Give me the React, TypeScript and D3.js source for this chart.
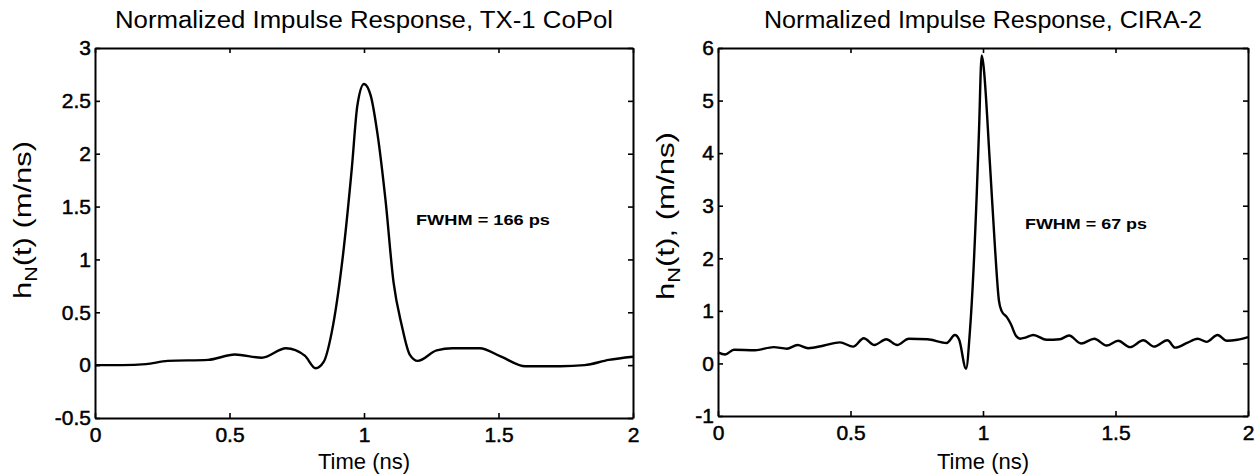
import React, { useEffect, useRef } from 'react';
import * as d3 from 'd3';

// TX-1 CoPol impulse response (ns, m/ns)
const leftTime = [0, 0.1, 0.19, 0.27, 0.42, 0.52, 0.62, 0.71, 0.78, 0.82, 0.85, 0.88, 0.92, 0.955, 0.975, 1.0, 1.025, 1.05, 1.08, 1.11, 1.14, 1.17, 1.2, 1.27, 1.33, 1.43, 1.51, 1.6, 1.73, 1.82, 1.91, 2.0];
const leftValue = [0, 0, 0.01, 0.04, 0.05, 0.1, 0.07, 0.16, 0.09, -0.03, 0.03, 0.31, 1.0, 1.87, 2.45, 2.66, 2.55, 2.19, 1.56, 0.78, 0.38, 0.1, 0.04, 0.14, 0.16, 0.16, 0.08, -0.01, -0.01, 0, 0.05, 0.08];

// CIRA-2 impulse response
const rightTime = [0, 0.027, 0.06, 0.14, 0.21, 0.26, 0.3, 0.34, 0.4, 0.46, 0.51, 0.55, 0.59, 0.635, 0.676, 0.72, 0.79, 0.863, 0.894, 0.91, 0.936, 0.951, 0.976, 0.985, 0.995, 1.001, 1.026, 1.045, 1.06, 1.07, 1.09, 1.105, 1.125, 1.14, 1.16, 1.19, 1.24, 1.29, 1.325, 1.37, 1.42, 1.466, 1.51, 1.555, 1.605, 1.645, 1.696, 1.725, 1.77, 1.81, 1.844, 1.885, 1.92, 1.96, 2.0];
const rightValue = [0.21, 0.17, 0.26, 0.25, 0.31, 0.28, 0.35, 0.29, 0.34, 0.4, 0.32, 0.48, 0.35, 0.46, 0.35, 0.47, 0.46, 0.39, 0.54, 0.45, -0.1, 0.64, 3.17, 4.44, 5.86, 5.7, 3.81, 2.22, 1.2, 1.0, 0.88, 0.75, 0.52, 0.47, 0.49, 0.54, 0.45, 0.46, 0.53, 0.38, 0.47, 0.34, 0.43, 0.31, 0.44, 0.32, 0.44, 0.3, 0.39, 0.47, 0.41, 0.54, 0.43, 0.45, 0.5];

const timeTicks = [0, 0.5, 1, 1.5, 2];
const leftTicks = [-0.5, 0, 0.5, 1, 1.5, 2, 2.5, 3];
const rightTicks = [-1, 0, 1, 2, 3, 4, 5, 6];

const FONT = "'Liberation Sans', Arial, Helvetica, sans-serif";

function drawPanel(svg, opts) {
  const { left, right, top, bottom, yDomain, yTicks, times, values, title, titleLen, yLabel, yLabelX, yLabelY, yLabelLen, fwhm, fwhmX, fwhmY, fwhmLen } = opts;

  const x = d3.scaleLinear().domain([0, 2]).range([left, right]);
  const y = d3.scaleLinear().domain(yDomain).range([bottom, top]);
  const fmt = (d) => String(d);

  const g = svg.append('g');

  const styleAxis = (sel) => {
    sel.selectAll('path').attr('stroke', '#000').attr('stroke-width', 2);
    sel.selectAll('line').attr('stroke', '#000').attr('stroke-width', 1.6);
    sel.selectAll('text')
      .attr('font-family', FONT)
      .attr('font-size', 21)
      .attr('fill', '#000')
      .attr('stroke', '#000')
      .attr('stroke-width', 0.5);
  };

  g.append('g')
    .attr('transform', `translate(0,${bottom})`)
    .call(d3.axisBottom(x).tickValues(timeTicks).tickFormat(fmt).tickSizeInner(-5).tickSizeOuter(0).tickPadding(9))
    .call(styleAxis);

  g.append('g')
    .attr('transform', `translate(0,${top})`)
    .call(d3.axisTop(x).tickValues(timeTicks).tickFormat(() => '').tickSizeInner(-5).tickSizeOuter(0))
    .call(styleAxis);

  g.append('g')
    .attr('transform', `translate(${left},0)`)
    .call(d3.axisLeft(y).tickValues(yTicks).tickFormat(fmt).tickSizeInner(-5).tickSizeOuter(0).tickPadding(4))
    .call(styleAxis);

  g.append('g')
    .attr('transform', `translate(${right},0)`)
    .call(d3.axisRight(y).tickValues(yTicks).tickFormat(() => '').tickSizeInner(-5).tickSizeOuter(0))
    .call(styleAxis);

  const pts = times.map((t, i) => [t, values[i]]);
  g.append('path')
    .datum(pts)
    .attr('fill', 'none')
    .attr('stroke', '#000')
    .attr('stroke-width', 2.4)
    .attr('stroke-linejoin', 'round')
    .attr('d', d3.line()
      .x((d) => x(d[0]))
      .y((d) => y(d[1]))
      .curve(d3.curveMonotoneX));

  const cx = (left + right) / 2;

  g.append('text')
    .attr('x', cx)
    .attr('y', 28)
    .attr('text-anchor', 'middle')
    .attr('font-family', FONT)
    .attr('font-size', 23)
    .attr('textLength', titleLen)
    .attr('lengthAdjust', 'spacingAndGlyphs')
    .text(title);

  g.append('text')
    .attr('x', cx)
    .attr('y', 469)
    .attr('text-anchor', 'middle')
    .attr('font-family', FONT)
    .attr('font-size', 22)
    .text('Time (ns)');

  const yl = g.append('text')
    .attr('transform', `translate(${yLabelX},${yLabelY}) rotate(-90)`)
    .attr('text-anchor', 'middle')
    .attr('font-family', FONT)
    .attr('font-size', 23)
    .attr('textLength', yLabelLen)
    .attr('lengthAdjust', 'spacingAndGlyphs');
  yl.append('tspan').text('h');
  yl.append('tspan').attr('font-size', 16).attr('dy', 6).text('N');
  yl.append('tspan').attr('dy', -6).text(yLabel);

  g.append('text')
    .attr('x', fwhmX)
    .attr('y', fwhmY)
    .attr('font-family', FONT)
    .attr('font-size', 15)
    .attr('font-weight', 'bold')
    .attr('textLength', fwhmLen)
    .attr('lengthAdjust', 'spacingAndGlyphs')
    .text(fwhm);
}

export default function App() {
  const ref = useRef(null);

  useEffect(() => {
    const svg = d3.select(ref.current);
    svg.selectAll('*').remove();

    drawPanel(svg, {
      left: 95, right: 633, top: 48, bottom: 418,
      yDomain: [-0.5, 3], yTicks: leftTicks,
      times: leftTime, values: leftValue,
      title: 'Normalized Impulse Response, TX-1 CoPol', titleLen: 498,
      yLabel: '(t)  (m/ns)', yLabelX: 31, yLabelY: 220, yLabelLen: 158,
      fwhm: 'FWHM = 166 ps', fwhmX: 416, fwhmY: 225, fwhmLen: 134,
    });

    drawPanel(svg, {
      left: 718, right: 1248, top: 48, bottom: 416,
      yDomain: [-1, 6], yTicks: rightTicks,
      times: rightTime, values: rightValue,
      title: 'Normalized Impulse Response, CIRA-2', titleLen: 438,
      yLabel: '(t),  (m/ns)', yLabelX: 674, yLabelY: 216, yLabelLen: 168,
      fwhm: 'FWHM = 67 ps', fwhmX: 1025, fwhmY: 229, fwhmLen: 122,
    });
  }, []);

  return (
    <svg
      ref={ref}
      width={1259}
      height={476}
      style={{ position: 'absolute', left: 0, top: 0, background: '#fff' }}
    />
  );
}
